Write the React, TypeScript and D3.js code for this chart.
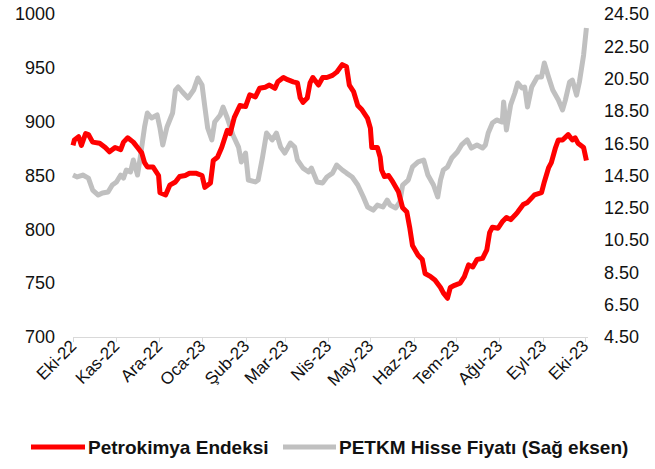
import * as d3 from 'd3';

// Petrokimya Endeksi (left axis)
const redDates = [
  '2022-10-01', '2022-10-02', '2022-10-05', '2022-10-07', '2022-10-10', '2022-10-12', '2022-10-15', '2022-10-20',
  '2022-10-24', '2022-10-27', '2022-10-31', '2022-11-04', '2022-11-06', '2022-11-09', '2022-11-13', '2022-11-16',
  '2022-11-19', '2022-11-21', '2022-11-23', '2022-11-27', '2022-12-01', '2022-12-02', '2022-12-06', '2022-12-09',
  '2022-12-13', '2022-12-16', '2022-12-20', '2022-12-23', '2022-12-28', '2023-01-01', '2023-01-03', '2023-01-07',
  '2023-01-09', '2023-01-12', '2023-01-15', '2023-01-19', '2023-01-21', '2023-01-24', '2023-01-28', '2023-02-01',
  '2023-02-04', '2023-02-08', '2023-02-11', '2023-02-15', '2023-02-18', '2023-02-22', '2023-02-24', '2023-02-28',
  '2023-03-03', '2023-03-07', '2023-03-10', '2023-03-12', '2023-03-14', '2023-03-17', '2023-03-19', '2023-03-21',
  '2023-03-25', '2023-03-28', '2023-03-31', '2023-04-04', '2023-04-07', '2023-04-11', '2023-04-14', '2023-04-16',
  '2023-04-19', '2023-04-22', '2023-04-25', '2023-04-29', '2023-05-01', '2023-05-02', '2023-05-06', '2023-05-08',
  '2023-05-09', '2023-05-11', '2023-05-14', '2023-05-17', '2023-05-21', '2023-05-24', '2023-05-27', '2023-05-29',
  '2023-05-31', '2023-06-04', '2023-06-07', '2023-06-09', '2023-06-13', '2023-06-16', '2023-06-20', '2023-06-22',
  '2023-06-25', '2023-06-27', '2023-06-30', '2023-07-04', '2023-07-07', '2023-07-10', '2023-07-13', '2023-07-16',
  '2023-07-20', '2023-07-23', '2023-07-25', '2023-07-27', '2023-07-31', '2023-08-03', '2023-08-06', '2023-08-09',
  '2023-08-12', '2023-08-14', '2023-08-18', '2023-08-21', '2023-08-26', '2023-08-31', '2023-09-02', '2023-09-05',
  '2023-09-07', '2023-09-10', '2023-09-12', '2023-09-15', '2023-09-19', '2023-09-22', '2023-09-24', '2023-09-26',
  '2023-09-30', '2023-10-02',
];
const redValues = [
  878, 883, 886, 878, 889, 888, 881, 880,
  876, 872, 876, 874, 881, 885, 881, 876,
  871, 862, 858, 858, 850, 834, 832, 841,
  844, 849, 850, 852, 852, 850, 839, 843,
  864, 867, 876, 892, 889, 904, 915, 914,
  925, 923, 931, 932, 934, 931, 937, 941,
  939, 937, 936, 922, 918, 922, 936, 941,
  934, 941, 941, 943, 946, 953, 951, 934,
  928, 915, 911, 903, 894, 876, 876, 867,
  855, 849, 850, 844, 835, 820, 816, 802,
  785, 776, 772, 759, 756, 753, 746, 741,
  736, 746, 748, 750, 756, 767, 765, 772,
  773, 781, 797, 802, 801, 807, 811, 809,
  813, 816, 823, 825, 832, 834, 844, 857,
  862, 876, 883, 883, 888, 883, 885, 880,
  876, 864,
];

// PETKM Hisse Fiyatı (right axis)
const grayDates = [
  '2022-10-01', '2022-10-04', '2022-10-08', '2022-10-12', '2022-10-15', '2022-10-19', '2022-10-22', '2022-10-26',
  '2022-10-29', '2022-11-01', '2022-11-04', '2022-11-06', '2022-11-08', '2022-11-11', '2022-11-13', '2022-11-16',
  '2022-11-18', '2022-11-21', '2022-11-23', '2022-11-26', '2022-11-30', '2022-12-02', '2022-12-04', '2022-12-07',
  '2022-12-11', '2022-12-13', '2022-12-15', '2022-12-18', '2022-12-22', '2022-12-26', '2022-12-29', '2023-01-01',
  '2023-01-03', '2023-01-05', '2023-01-08', '2023-01-10', '2023-01-14', '2023-01-16', '2023-01-19', '2023-01-23',
  '2023-01-27', '2023-01-29', '2023-02-01', '2023-02-03', '2023-02-08', '2023-02-10', '2023-02-13', '2023-02-16',
  '2023-02-20', '2023-02-23', '2023-02-26', '2023-03-01', '2023-03-05', '2023-03-08', '2023-03-10', '2023-03-14',
  '2023-03-18', '2023-03-20', '2023-03-24', '2023-03-28', '2023-03-31', '2023-04-04', '2023-04-07', '2023-04-11',
  '2023-04-14', '2023-04-18', '2023-04-22', '2023-04-26', '2023-04-29', '2023-05-03', '2023-05-06', '2023-05-10',
  '2023-05-13', '2023-05-15', '2023-05-19', '2023-05-22', '2023-05-24', '2023-05-28', '2023-05-31', '2023-06-04',
  '2023-06-08', '2023-06-11', '2023-06-15', '2023-06-18', '2023-06-20', '2023-06-22', '2023-06-25', '2023-06-28',
  '2023-07-02', '2023-07-05', '2023-07-09', '2023-07-12', '2023-07-16', '2023-07-20', '2023-07-22', '2023-07-24',
  '2023-07-27', '2023-07-30', '2023-08-03', '2023-08-04', '2023-08-06', '2023-08-09', '2023-08-12', '2023-08-14',
  '2023-08-17', '2023-08-19', '2023-08-21', '2023-08-24', '2023-08-28', '2023-08-31', '2023-09-02', '2023-09-05',
  '2023-09-08', '2023-09-12', '2023-09-15', '2023-09-17', '2023-09-20', '2023-09-22', '2023-09-25', '2023-09-27',
  '2023-09-30', '2023-10-02',
];
const grayValues = [
  14.53, 14.41, 14.53, 14.34, 13.6, 13.29, 13.42, 13.48,
  13.91, 14.1, 14.53, 14.34, 14.84, 14.72, 15.46, 14.53,
  15.65, 17.5, 18.37, 18.06, 18.25, 17.44, 16.39, 17.5,
  18.37, 19.79, 19.98, 19.67, 19.3, 19.79, 20.54, 20.1,
  18.74, 17.44, 16.7, 17.81, 18.25, 18.74, 18.06, 17.01,
  16.26, 15.34, 15.89, 14.22, 14.1, 14.22, 15.58, 17.13,
  16.7, 17.13, 16.26, 15.89, 16.51, 16.26, 15.46, 14.96,
  14.72, 14.96, 14.1, 14.04, 14.41, 14.65, 15.15, 14.84,
  14.65, 14.41, 13.91, 13.17, 12.55, 12.36, 12.67, 12.55,
  12.98, 12.67, 12.49, 12.86, 13.91, 14.22, 15.03, 15.34,
  15.46, 14.53, 13.91, 13.17, 14.22, 14.84, 15.03, 15.58,
  15.95, 16.39, 16.7, 16.2, 16.39, 16.2, 16.39, 17.13,
  17.75, 17.94, 17.81, 19.05, 17.32, 18.87, 19.61, 20.23,
  19.92, 19.98, 18.74, 19.98, 20.6, 20.6, 21.47, 20.6,
  19.79, 19.17, 18.56, 19.17, 20.29, 20.41, 19.48, 20.29,
  21.96, 23.63,
];

const monthLabels = [
  'Eki-22', 'Kas-22', 'Ara-22', 'Oca-23', 'Şub-23', 'Mar-23', 'Nis-23',
  'May-23', 'Haz-23', 'Tem-23', 'Ağu-23', 'Eyl-23', 'Eki-23',
];
const leftTicks = [700, 750, 800, 850, 900, 950, 1000];
const rightTicks = [4.5, 6.5, 8.5, 10.5, 12.5, 14.5, 16.5, 18.5, 20.5, 22.5, 24.5];

const W = 655;
const H = 469;
const font = 'Liberation Sans, Arial, sans-serif';
const textColor = '#111';

const parse = d3.timeParse('%Y-%m-%d');

export default function App() {
  const start = new Date(2022, 9, 1);
  const end = new Date(2023, 9, 1);
  const x = d3.scaleTime().domain([start, end]).range([73, 585]);
  const yL = d3.scaleLinear().domain([700, 1000]).range([337, 14]);
  const yR = d3.scaleLinear().domain([4.5, 24.5]).range([337, 14]);
  const months = d3.timeMonth.range(start, d3.timeDay.offset(end, 1));

  const red = redDates.map((d, i) => ({ date: parse(d) as Date, v: redValues[i] }));
  const gray = grayDates.map((d, i) => ({ date: parse(d) as Date, v: grayValues[i] }));

  const redLine = d3.line<{ date: Date; v: number }>().x(d => x(d.date)).y(d => yL(d.v));
  const grayLine = d3.line<{ date: Date; v: number }>().x(d => x(d.date)).y(d => yR(d.v));
  const fmt = d3.format('.2f');

  return (
    <svg width={W} height={H} style={{ position: 'absolute', left: 0, top: 0, background: '#fff' }}
      fontFamily={font}>
      {/* x axis */}
      <line x1={73} x2={588} y1={337.5} y2={337.5} stroke="#d9d9d9" strokeWidth={1} />
      {months.map((m, i) => (
        <g key={i} transform={`translate(${Math.round(x(m)) + 0.5},337)`}>
          <line y1={0} y2={5} stroke="#d9d9d9" />
          <text transform="translate(4,10) rotate(-45)" textAnchor="end" fontSize={17} fill={textColor}>
            {monthLabels[i]}
          </text>
        </g>
      ))}

      {/* left axis labels */}
      {leftTicks.map(t => (
        <text key={t} x={55} y={yL(t)} dy="0.35em" textAnchor="end" fontSize={18} fill={textColor}>{t}</text>
      ))}
      {/* right axis labels */}
      {rightTicks.map(t => (
        <text key={t} x={604} y={yR(t)} dy="0.35em" textAnchor="start" fontSize={18} fill={textColor}>{fmt(t)}</text>
      ))}

      <path d={grayLine(gray) || ''} fill="none" stroke="#c0c0c0" strokeWidth={5} strokeLinejoin="round" />
      <path d={redLine(red) || ''} fill="none" stroke="#ff0000" strokeWidth={5} strokeLinejoin="round" />

      {/* legend */}
      <line x1={31} x2={85} y1={447} y2={447} stroke="#ff0000" strokeWidth={5} />
      <text x={88} y={447} dy="0.35em" fontSize={19} fontWeight="bold" fill={textColor}>Petrokimya Endeksi</text>
      <line x1={283} x2={336} y1={447} y2={447} stroke="#c0c0c0" strokeWidth={5} />
      <text x={339} y={447} dy="0.35em" fontSize={19} fontWeight="bold" fill={textColor}>PETKM Hisse Fiyatı (Sağ eksen)</text>
    </svg>
  );
}
